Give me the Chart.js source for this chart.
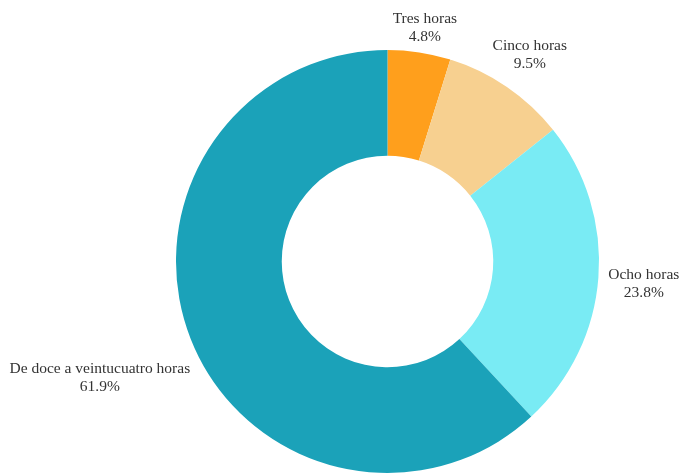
<!DOCTYPE html>
<html>
<head>
<meta charset="utf-8">
<script src="https://cdn.jsdelivr.net/npm/chart.js@4"></script>
<style>
  html, body { margin: 0; padding: 0; background: #fff; }
  #wrap { width: 681px; height: 476px; }
</style>
</head>
<body>
<div id="wrap"><canvas id="myChart" width="681" height="476"></canvas></div>
<script>
const ctx = document.getElementById("myChart");

var arrLabels = ["Tres horas", "Cinco horas", "Ocho horas", "De doce a veintucuatro horas"];
var arrData = [4.8, 9.5, 23.8, 61.9];
var arrColors = ["#ff9f1c", "#f7d090", "#79ebf4", "#1ba2b9"];

// small hand nudges for the outside labels (px)
var labelNudge = [[0, -2], [-1, -13], [5, 5], [-2, 31]];

// labels outside the ring, name over percent
const outsideLabels = {
  id: "outsideLabels",
  afterDatasetsDraw(chart) {
    const c = chart.ctx;
    const meta = chart.getDatasetMeta(0);
    c.save();
    c.font = "15.5px 'Liberation Serif', 'Times New Roman', serif";
    c.fillStyle = "#333";
    c.textAlign = "center";
    c.textBaseline = "middle";
    const lineH = 18;
    meta.data.forEach((arc, i) => {
      const p = arc.getProps(["x", "y", "startAngle", "endAngle", "outerRadius"], true);
      const mid = (p.startAngle + p.endAngle) / 2;
      const lines = [arrLabels[i], arrData[i].toFixed(1) + "%"];
      const w = Math.max(...lines.map(l => c.measureText(l).width));
      const h = lines.length * lineH;
      const r = p.outerRadius + 5;
      const ax = p.x + Math.cos(mid) * r;
      const ay = p.y + Math.sin(mid) * r;
      const cx = ax + Math.cos(mid) * w / 2 + labelNudge[i][0];
      const cy = ay + Math.sin(mid) * h / 2 + labelNudge[i][1];
      lines.forEach((l, k) => {
        c.fillText(l, cx, cy - h / 2 + lineH / 2 + k * lineH);
      });
    });
    c.restore();
  }
};

new Chart(ctx, {
  type: "doughnut",
  data: {
    labels: arrLabels,
    datasets: [
      {
        data: arrData,
        backgroundColor: arrColors,
        borderWidth: 0,
        hoverOffset: 0,
      },
    ],
  },
  options: {
    responsive: false,
    animation: false,
    cutout: "50%",
    layout: {
      padding: { top: 50, bottom: 3, left: 176, right: 82 },
    },
    plugins: {
      legend: { display: false },
      tooltip: { enabled: false },
    },
  },
  plugins: [outsideLabels],
});
</script>
</body>
</html>
